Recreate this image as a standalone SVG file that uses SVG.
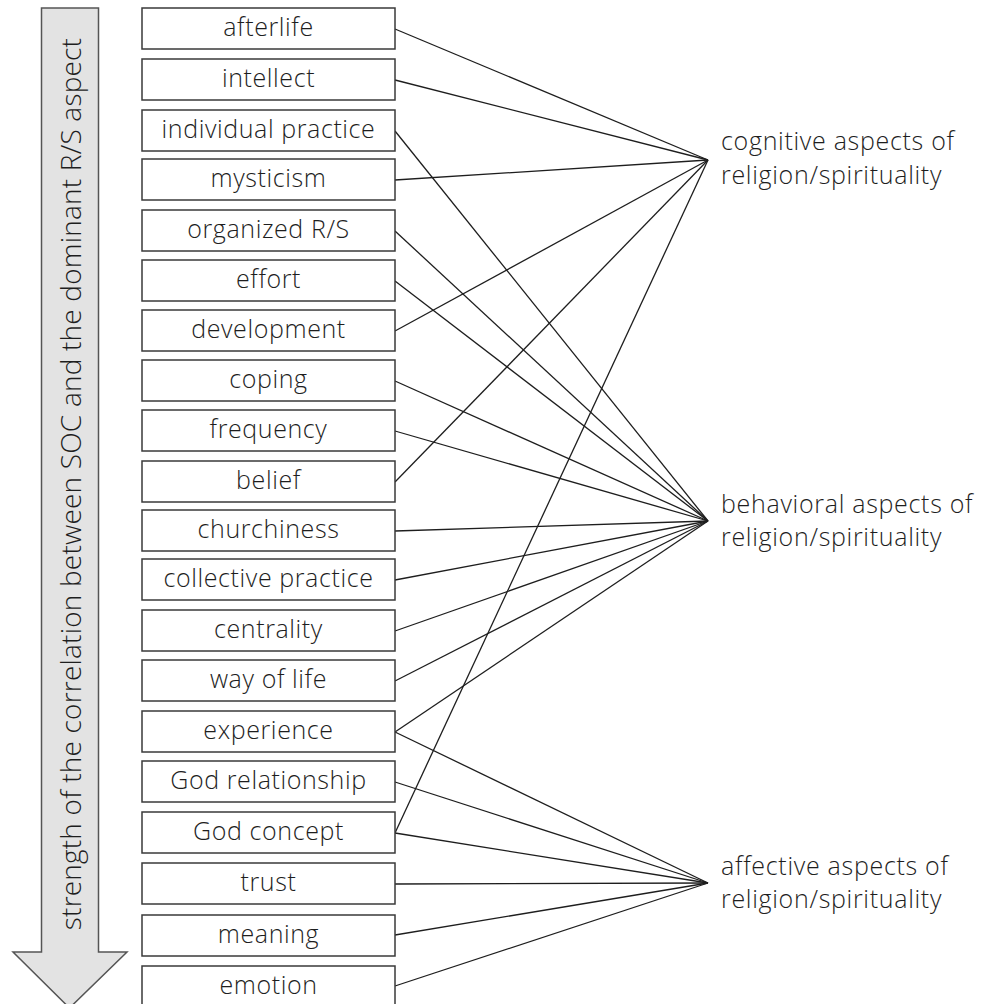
<svg xmlns="http://www.w3.org/2000/svg" width="986" height="1004" viewBox="0 0 986 1004">
<style>
.box{fill:#fff;stroke:#3a3a3a;stroke-width:1.5}
.t{font-family:"Open Sans","Liberation Sans",sans-serif;font-weight:300;font-size:25px;letter-spacing:0.6px;fill:#1e1e1e;text-anchor:middle}
.v{font-family:"Open Sans","Liberation Sans",sans-serif;font-weight:300;font-size:28px;letter-spacing:0.2px;fill:#1e1e1e;text-anchor:middle}
.lab{font-family:"Open Sans","Liberation Sans",sans-serif;font-weight:300;font-size:25px;letter-spacing:0.7px;fill:#1e1e1e}
.c{stroke:#1e1e1e;stroke-width:1.3;fill:none}
</style>
<rect width="986" height="1004" fill="#fff"/>
<g id="arrow">
<path d="M41.5,8 H98.5 V952 H127 L69.5,1008 L13,952 H41.5 Z" fill="#e3e3e3" stroke="#555" stroke-width="1.5"/>
<text class="v" transform="translate(81,484) rotate(-90)">strength of the correlation between SOC and the dominant R/S aspect</text>
</g>
<g id="connectors">
<line class="c" x1="395" y1="29" x2="708" y2="160"/>
<line class="c" x1="395" y1="80" x2="708" y2="160"/>
<line class="c" x1="395" y1="131" x2="708" y2="521"/>
<line class="c" x1="395" y1="180" x2="708" y2="160"/>
<line class="c" x1="395" y1="231" x2="708" y2="521"/>
<line class="c" x1="395" y1="281" x2="708" y2="521"/>
<line class="c" x1="395" y1="331" x2="708" y2="160"/>
<line class="c" x1="395" y1="381" x2="708" y2="521"/>
<line class="c" x1="395" y1="431" x2="708" y2="521"/>
<line class="c" x1="395" y1="482" x2="708" y2="160"/>
<line class="c" x1="395" y1="531" x2="708" y2="521"/>
<line class="c" x1="395" y1="580" x2="708" y2="521"/>
<line class="c" x1="395" y1="631" x2="708" y2="521"/>
<line class="c" x1="395" y1="681" x2="708" y2="521"/>
<line class="c" x1="395" y1="732" x2="708" y2="521"/>
<line class="c" x1="395" y1="732" x2="708" y2="883"/>
<line class="c" x1="395" y1="782" x2="708" y2="883"/>
<line class="c" x1="395" y1="833" x2="708" y2="883"/>
<line class="c" x1="395" y1="833" x2="708" y2="160"/>
<line class="c" x1="395" y1="884" x2="708" y2="883"/>
<line class="c" x1="395" y1="935" x2="708" y2="883"/>
<line class="c" x1="395" y1="986" x2="708" y2="883"/>
</g>
<g id="n1"><rect class="box" x="142" y="8" width="253" height="41"/><text class="t" x="268.5" y="36">afterlife</text></g>
<g id="n2"><rect class="box" x="142" y="59" width="253" height="41"/><text class="t" x="268.5" y="87">intellect</text></g>
<g id="n3"><rect class="box" x="142" y="110" width="253" height="41"/><text class="t" x="268.5" y="138">individual practice</text></g>
<g id="n4"><rect class="box" x="142" y="159" width="253" height="41"/><text class="t" x="268.5" y="187">mysticism</text></g>
<g id="n5"><rect class="box" x="142" y="210" width="253" height="41"/><text class="t" x="268.5" y="238">organized R/S</text></g>
<g id="n6"><rect class="box" x="142" y="260" width="253" height="41"/><text class="t" x="268.5" y="288">effort</text></g>
<g id="n7"><rect class="box" x="142" y="310" width="253" height="41"/><text class="t" x="268.5" y="338">development</text></g>
<g id="n8"><rect class="box" x="142" y="360" width="253" height="41"/><text class="t" x="268.5" y="388">coping</text></g>
<g id="n9"><rect class="box" x="142" y="410" width="253" height="41"/><text class="t" x="268.5" y="438">frequency</text></g>
<g id="n10"><rect class="box" x="142" y="461" width="253" height="41"/><text class="t" x="268.5" y="489">belief</text></g>
<g id="n11"><rect class="box" x="142" y="510" width="253" height="41"/><text class="t" x="268.5" y="538">churchiness</text></g>
<g id="n12"><rect class="box" x="142" y="559" width="253" height="41"/><text class="t" x="268.5" y="587">collective practice</text></g>
<g id="n13"><rect class="box" x="142" y="610" width="253" height="41"/><text class="t" x="268.5" y="638">centrality</text></g>
<g id="n14"><rect class="box" x="142" y="660" width="253" height="41"/><text class="t" x="268.5" y="688">way of life</text></g>
<g id="n15"><rect class="box" x="142" y="711" width="253" height="41"/><text class="t" x="268.5" y="739">experience</text></g>
<g id="n16"><rect class="box" x="142" y="761" width="253" height="41"/><text class="t" x="268.5" y="789">God relationship</text></g>
<g id="n17"><rect class="box" x="142" y="812" width="253" height="41"/><text class="t" x="268.5" y="840">God concept</text></g>
<g id="n18"><rect class="box" x="142" y="863" width="253" height="41"/><text class="t" x="268.5" y="891">trust</text></g>
<g id="n19"><rect class="box" x="142" y="915" width="253" height="41"/><text class="t" x="268.5" y="943">meaning</text></g>
<g id="n20"><rect class="box" x="142" y="966" width="253" height="41"/><text class="t" x="268.5" y="994">emotion</text></g>
<g id="cog"><text class="lab" x="721" y="150">cognitive aspects of</text><text class="lab" x="721" y="184">religion/spirituality</text></g>
<g id="beh"><text class="lab" x="721" y="513">behavioral aspects of</text><text class="lab" x="721" y="546">religion/spirituality</text></g>
<g id="aff"><text class="lab" x="721" y="875">affective aspects of</text><text class="lab" x="721" y="908">religion/spirituality</text></g>
</svg>
